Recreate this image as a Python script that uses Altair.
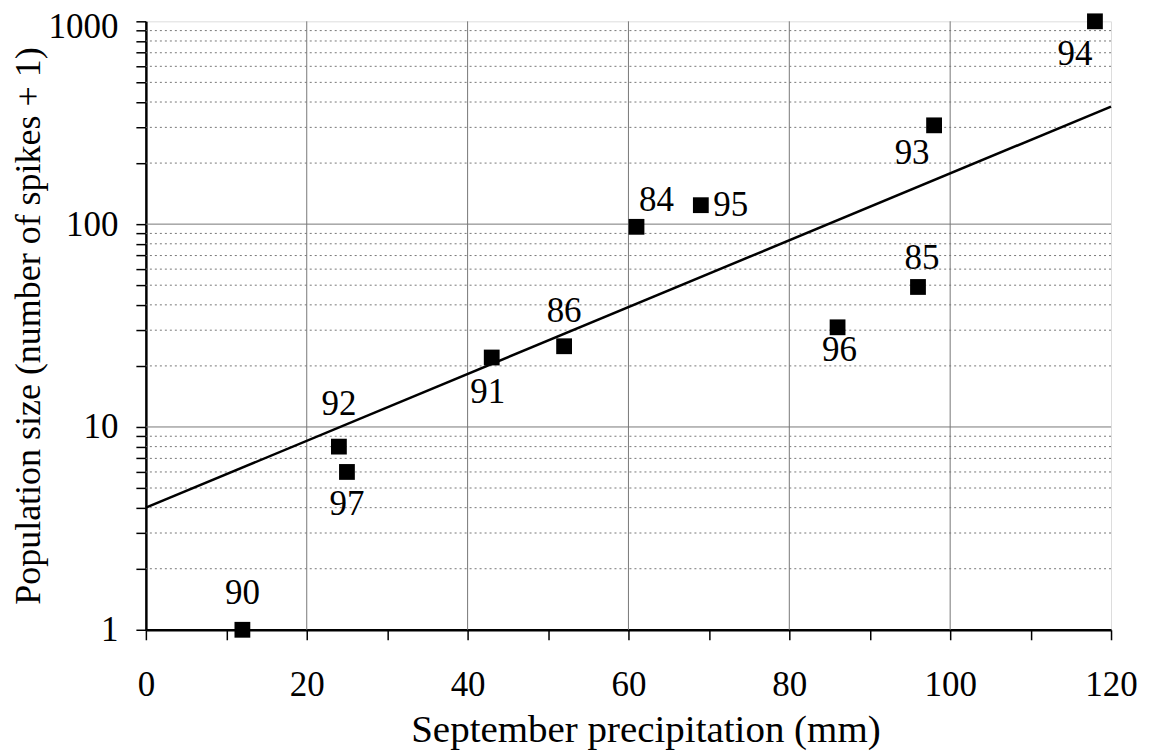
import altair as alt
import pandas as pd

# Data
years = ["90", "92", "97", "91", "86", "84", "95", "96", "85", "93", "94"]
precip = [12, 24, 25, 43, 52, 61, 69, 86, 96, 98, 118]
popsize = [1, 8, 6, 22, 25, 97, 124, 31, 49, 307, 1000]

fit_x = [0, 120]
fit_y = [4.0, 380.0]

x_major_grid = [20, 40, 60, 80, 100]
y_major_grid = [10, 100]
y_minor_grid = [2, 3, 4, 5, 6, 7, 8, 9, 20, 30, 40, 50, 60, 70, 80, 90,
                200, 300, 400, 500, 600, 700, 800, 900]
y_tick_values = [1] + y_minor_grid[:8] + [10] + y_minor_grid[8:16] + [100] + y_minor_grid[16:] + [1000]
x_tick_values = list(range(0, 121, 10))

FONT = "Liberation Serif"
FS = 35

pts = pd.DataFrame({"label": years, "x": precip, "y": popsize})
fit = pd.DataFrame({"x": fit_x, "y": fit_y})

xscale = alt.Scale(domain=[0, 120], nice=False, zero=False)
yscale = alt.Scale(type="log", domain=[1, 1000], nice=False)

xaxis = alt.Axis(values=x_tick_values, labelExpr="datum.value % 20 == 0 ? datum.label : ''",
                 title="September precipitation (mm)", grid=False,
                 tickSize=10, tickColor="black", tickWidth=1.5,
                 domainColor="black", domainWidth=2.5,
                 labelFont=FONT, labelFontSize=FS, labelColor="black", labelPadding=28,
                 labelFlush=False,
                 titleFont=FONT, titleFontSize=39, titleFontWeight="normal", titleColor="black",
                 titlePadding=8, titleX=500, titleAlign="center")
yaxis = alt.Axis(values=y_tick_values,
                 labelExpr="indexof([1,10,100,1000], datum.value) >= 0 ? datum.label : ''",
                 format="d",
                 title="Population size (number of spikes + 1)", grid=False,
                 tickSize=10, tickColor="black", tickWidth=1.5,
                 domainColor="black", domainWidth=2.5,
                 labelFont=FONT, labelFontSize=FS, labelColor="black", labelPadding=18,
                 labelFlush=False,
                 labelOffset={"condition": {"test": "datum.value == 1000", "value": 5}, "value": 0},
                 titleFont=FONT, titleFontSize=36, titleFontWeight="normal", titleColor="black",
                 titlePadding=0)

X = lambda: alt.X("x:Q", scale=xscale, axis=xaxis)
Y = lambda: alt.Y("y:Q", scale=yscale, axis=yaxis)

minor = alt.Chart(pd.DataFrame({"y": y_minor_grid})).mark_rule(
    color="#777", strokeWidth=1, strokeDash=[2, 3]
).encode(y=Y())

major_y = alt.Chart(pd.DataFrame({"y": y_major_grid})).mark_rule(
    color="#777", strokeWidth=1
).encode(y=Y())

major_x = alt.Chart(pd.DataFrame({"x": x_major_grid})).mark_rule(
    color="#777", strokeWidth=1
).encode(x=X())

line = alt.Chart(fit).mark_line(color="black", strokeWidth=2.5).encode(x=X(), y=Y())

points = alt.Chart(pts).mark_square(color="black", opacity=1, size=250).encode(x=X(), y=Y())

# label placement (styling, not data)
offsets = {
    "90": (0, -37), "92": (0, -43), "97": (0, 32), "91": (-4, 35),
    "86": (0, -35), "84": (20, -27), "95": (30, 0), "96": (2, 23),
    "85": (4, -29), "93": (-22, 28), "94": (-20, 33),
}
text_layers = []
for lab, (dx, dy) in offsets.items():
    text_layers.append(
        alt.Chart(pts).transform_filter(alt.datum.label == lab).mark_text(
            font=FONT, fontSize=FS, color="black", dx=dx, dy=dy,
            align="center", baseline="middle"
        ).encode(x=X(), y=Y(), text="label:N")
    )

chart = alt.layer(minor, major_y, major_x, line, points, *text_layers).properties(
    width=966, height=609,
    autosize=alt.AutoSizeParams(type="none"),
    padding={"left": 138, "top": 13, "right": 30, "bottom": 125},
).configure_view(stroke="#777", strokeWidth=1).configure(background="white")

chart.save("out.html", embed_options={"renderer": "svg", "actions": False})
